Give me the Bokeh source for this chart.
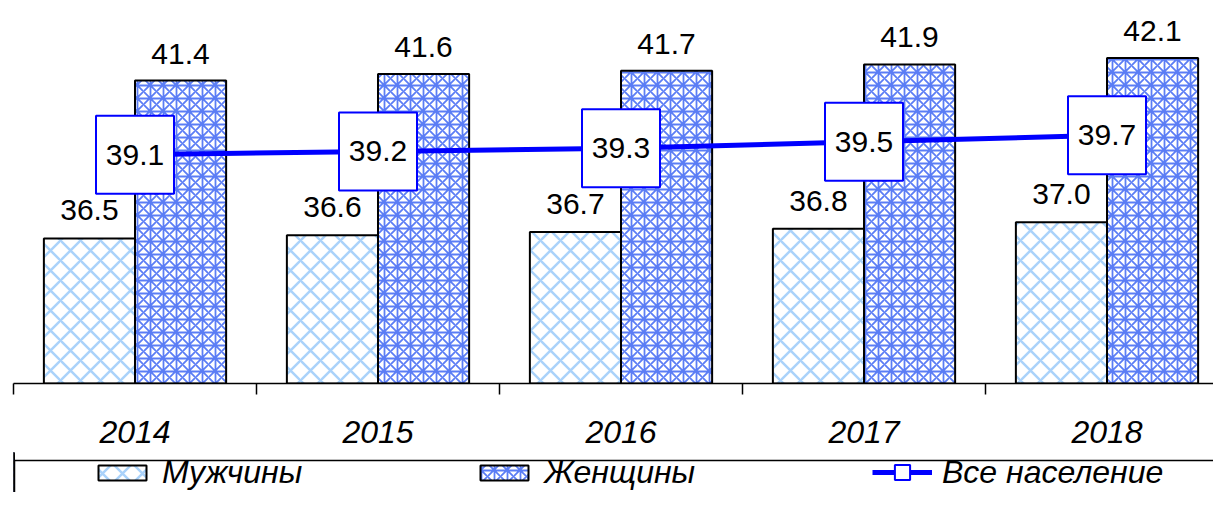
from bokeh.plotting import figure
from bokeh.layouts import column
from bokeh.models import (ColumnDataSource, Range1d, LinearAxis, FixedTicker,
                          Legend, LegendItem, BoxAnnotation)
from bokeh.transform import dodge
from bokeh.core.properties import value
from bokeh.embed import file_html
from bokeh.resources import INLINE

years = ["2014", "2015", "2016", "2017", "2018"]
men = [36.5, 36.6, 36.7, 36.8, 37.0]
women = [41.4, 41.6, 41.7, 41.9, 42.1]
total = [39.1, 39.2, 39.3, 39.5, 39.7]
series_names = ["Мужчины", "Женщины", "Все население"]

FONT = "Liberation Sans"
W = 1213
MAIN_H, LEG_H = 452, 40
LEFT = 13
CAT_PX = 243.0
FRAME_H = 383
PX_PER_UNIT = 32.23
Y0 = 32

MEN_STYLE = dict(fill_color="white", hatch_pattern="diagonal_cross",
                 hatch_color="#aad2fa", hatch_scale=20, hatch_weight=2.5,
                 line_color="black", line_width=2)
WOMEN_STYLE = dict(fill_color="white", hatch_pattern="criss_cross",
                   hatch_color="#5b7df5", hatch_scale=13, hatch_weight=1.8,
                   line_color="black", line_width=2)
LINE_STYLE = dict(line_color="#0000ff", line_width=5)
BOX_STYLE = dict(marker="square", fill_color="white", line_color="#0000ff",
                 line_width=2)

xs = [i + 0.5 for i in range(len(years))]
src = ColumnDataSource(dict(
    x=xs, men=men, women=women, total=total,
    men_lbl=[f"{v:.1f}" for v in men],
    women_lbl=[f"{v:.1f}" for v in women],
    total_lbl=[f"{v:.1f}" for v in total],
))

p = figure(width=W, height=MAIN_H, output_backend="svg", toolbar_location=None,
           x_range=Range1d(0, (W - LEFT) / CAT_PX),
           y_range=Range1d(Y0, Y0 + FRAME_H / PX_PER_UNIT),
           x_axis_location=None, y_axis_location=None,
           min_border_left=LEFT, min_border_right=0, min_border_top=0,
           min_border_bottom=MAIN_H - FRAME_H)
p.outline_line_color = None
p.grid.visible = False

xaxis = LinearAxis(
    ticker=FixedTicker(ticks=xs, minor_ticks=list(range(len(years) + 1))),
    major_label_overrides={x: y for x, y in zip(xs, years)},
    major_tick_out=0, major_tick_in=0, minor_tick_out=11, minor_tick_in=0,
    axis_line_color="black", axis_line_width=1.5,
    minor_tick_line_color="black", minor_tick_line_width=1.5,
    major_label_text_font=FONT, major_label_text_font_style="italic",
    major_label_text_font_size="32px", major_label_text_color="black",
    major_label_standoff=26,
)
p.add_layout(xaxis, "below")

BW = 0.375
p.vbar(x=dodge("x", -BW / 2, range=p.x_range), top="men", bottom=Y0,
       width=BW, source=src, **MEN_STYLE)
p.vbar(x=dodge("x", BW / 2, range=p.x_range), top="women", bottom=Y0,
       width=BW, source=src, **WOMEN_STYLE)

p.text(x=dodge("x", -BW / 2, range=p.x_range), y="men", text="men_lbl",
       source=src, text_align="center", text_baseline="bottom", y_offset=-18,
       text_font=value(FONT), text_font_size="30px", text_color="black")
p.text(x=dodge("x", BW / 2, range=p.x_range), y="women", text="women_lbl",
       source=src, text_align="center", text_baseline="bottom", y_offset=-17,
       text_font=value(FONT), text_font_size="30px", text_color="black")

p.line(x="x", y="total", source=src, **LINE_STYLE)
p.scatter(x="x", y="total", source=src, size=78, **BOX_STYLE)
p.text(x="x", y="total", text="total_lbl", source=src, text_align="center",
       text_baseline="middle", text_font=value(FONT), text_font_size="30px",
       text_color="black")

# legend strip: pixel-scaled figure below the chart (frame aligned with chart)
q = figure(width=W, height=LEG_H, output_backend="svg", toolbar_location=None,
           x_range=Range1d(LEFT, W), y_range=Range1d(0, LEG_H),
           x_axis_location=None, y_axis_location=None,
           min_border=0, min_border_left=LEFT)
q.outline_line_color = None
q.grid.visible = False
q.add_layout(BoxAnnotation(left=LEFT + 1, right=W + 50, bottom=-60, top=32,
                           fill_color="white", fill_alpha=1,
                           line_color="black", line_alpha=1, line_width=1.5))
# legend-only renderers (their data lies outside this strip's range)
lr_men = q.vbar(x="x", top="men", width=1, source=src, **MEN_STYLE)
lr_women = q.vbar(x="x", top="women", width=1, source=src, **WOMEN_STYLE)
lr_line = q.line(x="x", y="total", source=src, **LINE_STYLE)
lr_box = q.scatter(x="x", y="total", source=src, size=14, **BOX_STYLE)

common = dict(orientation="horizontal", padding=0, margin=0,
              glyph_width=60, label_standoff=10,
              label_text_font=FONT, label_text_font_style="italic",
              label_text_font_size="32px", label_text_color="black",
              border_line_color=None, background_fill_alpha=0)
legend_a = Legend(
    items=[LegendItem(label=series_names[0], renderers=[lr_men]),
           LegendItem(label=series_names[1], renderers=[lr_women])],
    location=(92 - LEFT, 1), glyph_height=19, spacing=172, **common)
legend_b = Legend(
    items=[LegendItem(label=series_names[2], renderers=[lr_line, lr_box])],
    location=(872 - LEFT, 1), glyph_height=38, **common)
q.add_layout(legend_a)
q.add_layout(legend_b)

layout = column(p, q, spacing=0)
open("out.html", "w").write(file_html(layout, INLINE))
